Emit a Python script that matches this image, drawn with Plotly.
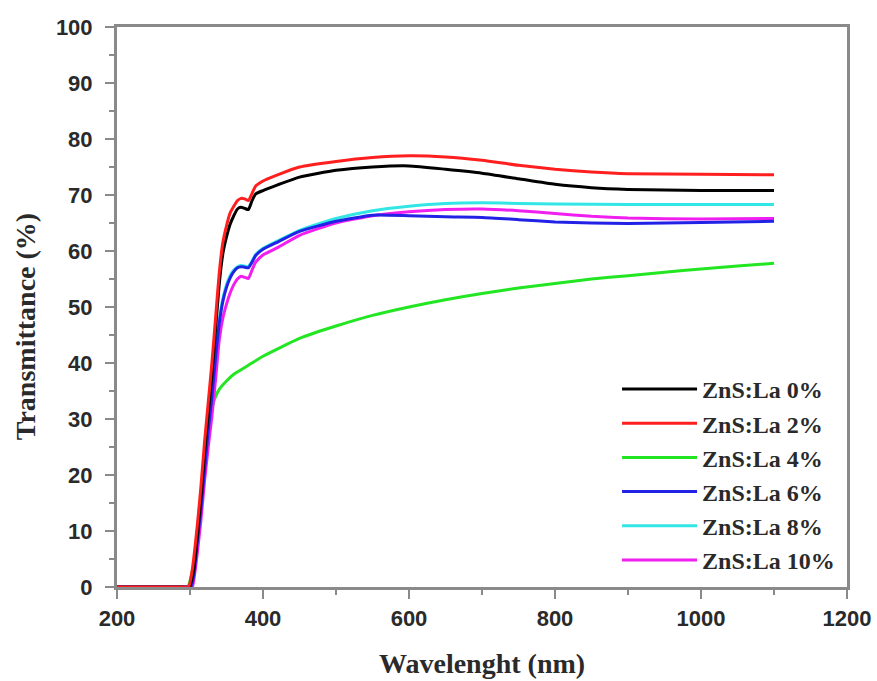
import plotly.graph_objects as go

# ---- data ----
labels = ["ZnS:La 0%", "ZnS:La 2%", "ZnS:La 4%", "ZnS:La 6%", "ZnS:La 8%", "ZnS:La 10%"]
colors = ["#000000", "#ff1f1f", "#22e622", "#2222e6", "#33e6e6", "#f01ff0"]

wl_0 = [200, 250, 290, 299, 305, 310, 315, 320, 325, 330, 335, 340, 345, 350, 355, 360, 365, 370, 375, 380, 385,
        390, 400, 420, 450, 500, 550, 600, 650, 700, 750, 800, 850, 900, 1000, 1100]
t_0 = [0, 0, 0, 0, 3, 9, 16, 24, 31, 38, 46, 54, 59.5, 62.5, 64.8, 66.3, 67.5, 67.8, 67.6, 67.4, 69.0,
       70.2, 70.8, 71.8, 73.2, 74.4, 75.0, 75.2, 74.6, 73.9, 72.9, 71.9, 71.3, 71.0, 70.8, 70.8]

wl_2 = [200, 250, 290, 298, 303, 310, 315, 320, 325, 330, 335, 340, 345, 350, 355, 360, 365, 370, 375, 380, 385,
        390, 400, 420, 450, 500, 550, 600, 650, 700, 750, 800, 850, 900, 1000, 1100]
t_2 = [0, 0, 0, 0, 3, 11, 18, 26, 33, 40, 48, 56, 61.5, 64.5, 66.8, 68.0, 69.0, 69.4, 69.3, 69.0, 70.3,
       71.6, 72.5, 73.6, 75.0, 76.0, 76.7, 77.0, 76.8, 76.2, 75.3, 74.6, 74.1, 73.8, 73.7, 73.6]

wl_4 = [200, 250, 290, 297, 305, 310, 315, 320, 325, 330, 335, 340, 350, 360, 370, 380, 400, 450, 500, 550, 600,
        650, 700, 750, 800, 850, 900, 950, 1000, 1050, 1100]
t_4 = [0, 0, 0, 0, 4, 10, 16.5, 23, 28.5, 32, 34, 35.3, 36.8, 38.0, 38.8, 39.6, 41.2, 44.4, 46.6, 48.5, 50.0,
       51.3, 52.4, 53.4, 54.2, 55.0, 55.6, 56.2, 56.8, 57.3, 57.8]

wl_6 = [200, 250, 292, 301, 305, 310, 315, 320, 325, 330, 335, 340, 345, 350, 355, 360, 365, 370, 375, 380, 385,
        390, 400, 420, 450, 500, 550, 600, 650, 700, 750, 800, 850, 900, 1000, 1100]
t_6 = [0, 0, 0, 0, 2, 8, 14, 21, 28, 34, 41, 47, 51, 53.5, 55.2, 56.3, 57.0, 57.2, 57.1, 57.0, 58.0,
       59.2, 60.3, 61.6, 63.5, 65.3, 66.4, 66.3, 66.1, 66.0, 65.6, 65.2, 65.0, 64.9, 65.1, 65.3]

wl_8 = [200, 250, 292, 301, 305, 310, 315, 320, 325, 330, 335, 340, 345, 350, 355, 360, 365, 370, 375, 380, 385,
        390, 400, 420, 450, 500, 550, 600, 650, 700, 750, 800, 900, 1000, 1100]
t_8 = [0, 0, 0, 0, 2, 8, 14, 21, 28, 34.5, 41.5, 47.5, 51.5, 54, 55.6, 56.6, 57.2, 57.4, 57.3, 57.2, 58.2,
       59.4, 60.5, 61.8, 63.7, 65.8, 67.2, 68.0, 68.5, 68.6, 68.5, 68.4, 68.3, 68.3, 68.3]

wl_10 = [200, 250, 294, 303, 306, 310, 315, 320, 325, 330, 335, 340, 345, 350, 355, 360, 365, 370, 375, 380, 385,
         390, 400, 420, 450, 500, 550, 600, 650, 700, 750, 800, 850, 900, 1000, 1100]
t_10 = [0, 0, 0, 0, 2, 6, 12, 19, 25, 30.5, 37, 44, 48, 50.5, 52.5, 54.0, 55.0, 55.5, 55.3, 55.1, 56.6,
        58.0, 59.3, 60.6, 62.8, 65.0, 66.3, 67.0, 67.4, 67.5, 67.2, 66.7, 66.2, 65.9, 65.7, 65.8]

series_x = [wl_0, wl_2, wl_4, wl_6, wl_8, wl_10]
series_y = [t_0, t_2, t_4, t_6, t_8, t_10]

x_ticks = [200, 400, 600, 800, 1000, 1200]
y_ticks = [0, 10, 20, 30, 40, 50, 60, 70, 80, 90, 100]

fig = go.Figure()
# draw order keeps black/red on top like the reference
order = [2, 4, 5, 3, 0, 1]
for i in order:
    fig.add_trace(go.Scatter(
        x=series_x[i], y=series_y[i], mode="lines", name=labels[i],
        line=dict(color=colors[i], width=3, shape="spline", smoothing=0.5),
        legendgroup=labels[i], legendrank=i,
    ))

axis_color = "#8a8a8a"
tick_font = dict(family="Liberation Sans, Arial, sans-serif", size=22, color="#2a2a2a", weight="bold")
title_font = dict(family="Liberation Serif, Times New Roman, serif", size=28, color="#2a2a2a", weight="bold")

fig.update_layout(
    width=877, height=681,
    margin=dict(l=117, r=30, t=27, b=94, autoexpand=False),
    paper_bgcolor="white", plot_bgcolor="white",
    showlegend=True,
    legend=dict(
        x=0.685, y=0.393, xanchor="left", yanchor="top",
        bgcolor="rgba(0,0,0,0)", borderwidth=0,
        font=dict(family="Liberation Serif, Times New Roman, serif", size=24, color="#2a2a2a", weight="bold"),
        tracegroupgap=0, itemwidth=75,
    ),
    xaxis=dict(
        range=[200, 1200], tickvals=x_ticks, ticktext=[str(v) for v in x_ticks],
        showgrid=False, zeroline=False, showline=True, linecolor=axis_color, linewidth=3, mirror=True,
        ticks="outside", ticklen=9, tickwidth=2, tickcolor=axis_color,
        minor=dict(dtick=100, tick0=200, ticks="outside", ticklen=5, tickwidth=2, tickcolor=axis_color),
        tickfont=tick_font, automargin=False, ticklabelstandoff=1,
    ),
    yaxis=dict(
        range=[0, 100], tickvals=y_ticks, ticktext=[str(v) for v in y_ticks],
        showgrid=False, zeroline=False, showline=True, linecolor=axis_color, linewidth=3, mirror=True,
        ticks="outside", ticklen=9, tickwidth=2, tickcolor=axis_color,
        minor=dict(dtick=5, tick0=0, ticks="outside", ticklen=5, tickwidth=2, tickcolor=axis_color),
        tickfont=tick_font, automargin=False, ticklabelstandoff=8,
    ),
    annotations=[
        dict(text="Wavelenght (nm)", xref="paper", yref="paper", x=0.5, y=0, yshift=-76,
             xanchor="center", yanchor="middle", showarrow=False, font=title_font),
        dict(text="Transmittance (%)", xref="paper", yref="paper", x=0, xshift=-92, y=0.464,
             xanchor="center", yanchor="middle", textangle=-90, showarrow=False, font=title_font),
    ],
)

fig.write_html(
    "out.html",
    config={"displayModeBar": False},
    post_script="document.body.style.margin='0';document.body.style.overflow='hidden';",
)
